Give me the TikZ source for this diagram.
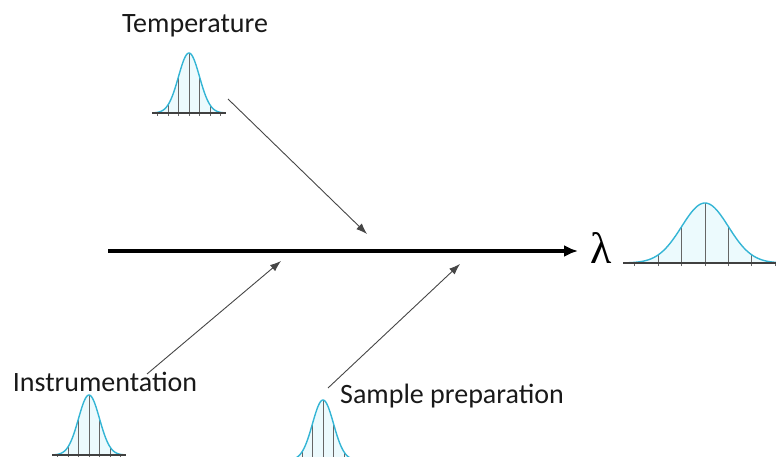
\documentclass[tikz,border=0pt]{standalone}
\usepackage{fontspec}
\setmainfont{Carlito}
\newfontfamily\lamfont{Liberation Serif}
\usetikzlibrary{arrows.meta}
\definecolor{gcyan}{RGB}{52,181,213}
\definecolor{gfillc}{RGB}{236,250,253}
\definecolor{arrgray}{RGB}{70,70,70}
\tikzset{
  gfill/.style={fill=gfillc},
  gline/.style={draw=black!60,line width=0.7pt},
  gcurve/.style={draw=gcyan,line width=1.4pt},
  gbase/.style={draw=black!75,line width=1.3pt},
  lbl/.style={font=\fontsize{28}{32}\selectfont,text=black!90,inner sep=0pt,anchor=base},
  cause/.style={draw=arrgray,line width=0.9pt,-{Latex[length=11pt,width=8pt]}},
  spine/.style={draw=black,line width=3.4pt,-{Latex[length=14pt,width=12pt]}},
  pics/gauss/.style={code={
    \fill[gfill] (-3.5,0) -- plot[domain=-3.5:3.5,samples=80] (\x,{exp(-0.5*\x*\x)}) -- (3.5,0) -- cycle;
    \foreach \k in {-3,...,3} \draw[gline] (\k,-0.05) -- (\k,{exp(-0.5*\k*\k)});
    \draw[gcurve] plot[domain=-3.5:3.5,samples=80] (\x,{exp(-0.5*\x*\x)});
    \draw[gbase] (-3.5,0) -- (3.5,0);
  }}
}
\begin{document}
\begin{tikzpicture}[x=1pt,y=-1pt]
\useasboundingbox (0,0) rectangle (776,457);
\clip (0,0) rectangle (776,457);
% distributions
\pic (gT) [xshift=189pt,yshift=-113pt,xscale=10.5,yscale=-60] at (0,0) {gauss};
\pic (gI) [xshift=89pt,yshift=-455pt,xscale=10.5,yscale=-60] at (0,0) {gauss};
\pic (gS) [xshift=323pt,yshift=-460pt,xscale=10.5,yscale=-60] at (0,0) {gauss};
\pic (gL) [xshift=705pt,yshift=-263pt,xscale=23.4,yscale=-60] at (0,0) {gauss};
% labels
\node[lbl] (temp) at (195,33) {Temperature};
\node[lbl] (instr) at (105,391) {Instrumentation};
\node[lbl] (samp) at (452,403) {Sample preparation};
\node[inner sep=0pt,anchor=base,font=\lamfont\fontsize{44}{48}\selectfont] (lam) at (601.5,263) {λ};
% spine
\coordinate (s0) at (108,251);
\coordinate (s1) at (578,251);
\draw[spine] (s0) -- (s1);
% causes
\coordinate (tA) at (228,99);
\coordinate (tB) at (367,234);
\coordinate (iA) at (147,374);
\coordinate (iB) at (281,261);
\coordinate (pA) at (328,388);
\coordinate (pB) at (460,264);
\draw[cause] (tA) -- (tB);
\draw[cause] (iA) -- (iB);
\draw[cause] (pA) -- (pB);
\end{tikzpicture}
\end{document}
